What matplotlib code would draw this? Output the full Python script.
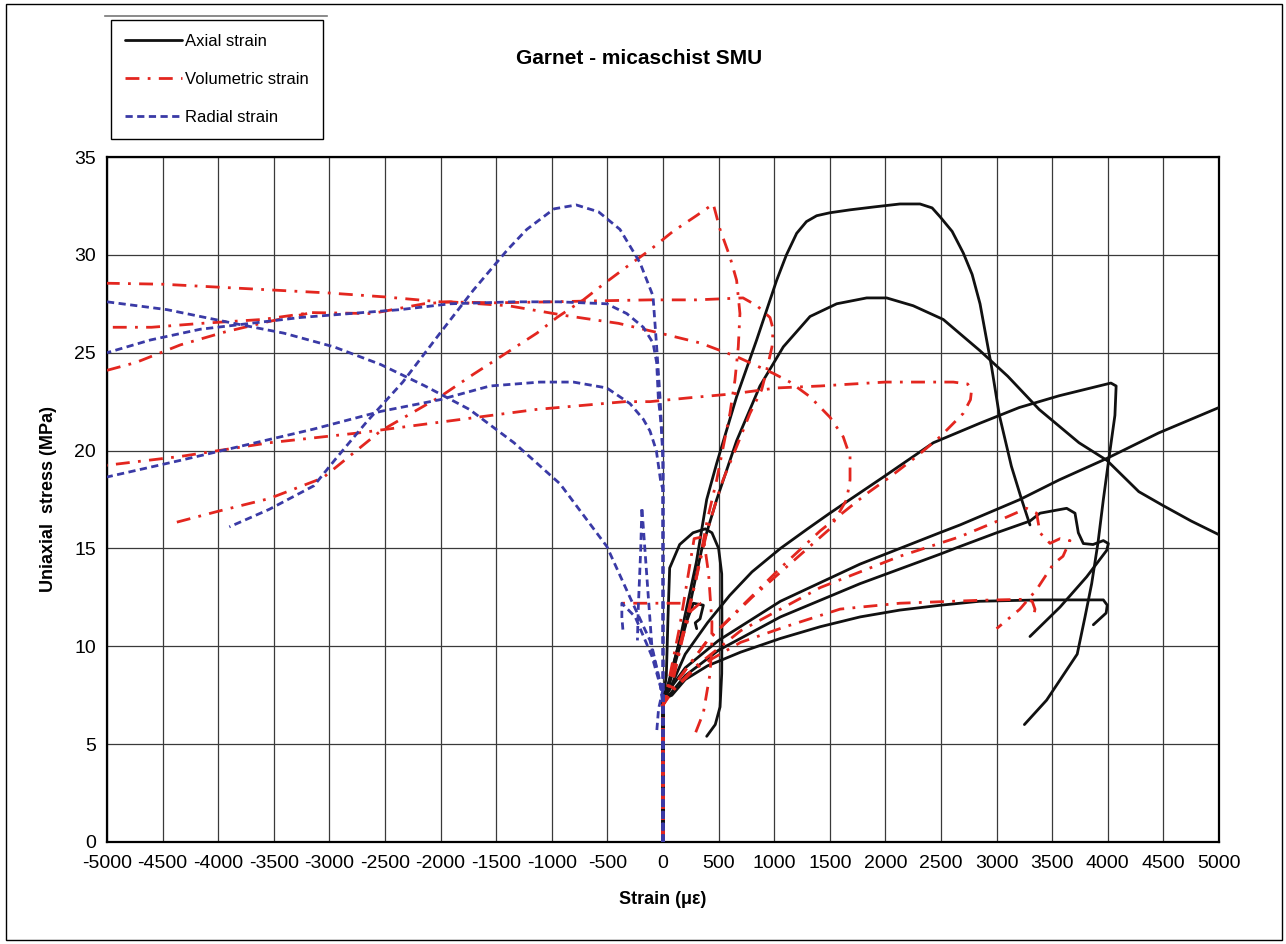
import matplotlib
matplotlib.use("Agg")
import matplotlib.pyplot as plt
from matplotlib.lines import Line2D
from matplotlib.patches import Rectangle

plt.rcParams['axes.unicode_minus'] = False

# ---------------- data (strain in micro-strain, stress in MPa) ----------------
# Axial strain curves (black)
ax1_x = [0, 0, 30, 150, 300, 393, 483, 662, 842, 1022, 1110, 1202, 1290, 1382, 1500, 1682, 1900, 2131, 2311, 2420, 2491, 2600, 2700, 2780, 2851, 2954, 3025, 3133, 3225, 3300]
ax1_y = [0, 7.3, 7.6, 10.3, 14.3, 17.5, 19.35, 22.75, 25.65, 28.7, 30.0, 31.1, 31.7, 32.0, 32.15, 32.3, 32.45, 32.6, 32.6, 32.4, 31.95, 31.2, 30.1, 29.0, 27.5, 24.3, 21.8, 19.2, 17.5, 16.2]

ax2_x = [0, 0, 40, 200, 350, 483, 662, 872, 1082, 1322, 1562, 1832, 2011, 2250, 2520, 2851, 3100, 3383, 3741, 3992, 4279, 4494, 4750, 5000]
ax2_y = [0, 7.3, 7.7, 11.0, 15.0, 17.5, 20.5, 23.3, 25.3, 26.85, 27.5, 27.8, 27.8, 27.4, 26.7, 25.1, 23.8, 22.1, 20.4, 19.5, 17.9, 17.2, 16.4, 15.7]

ax3_x = [0, 0, 60, 200, 400, 600, 800, 1056, 1300, 1500, 1682, 1982, 2431, 2851, 3204, 3562, 3920, 4028, 4075, 4064, 4010, 3960, 3912, 3855, 3795, 3725, 3450, 3250]
ax3_y = [0, 7.3, 7.8, 9.6, 11.2, 12.6, 13.8, 15.0, 16.0, 16.8, 17.5, 18.65, 20.4, 21.4, 22.2, 22.8, 23.3, 23.45, 23.3, 21.8, 19.6, 17.5, 15.3, 13.2, 11.5, 9.6, 7.25, 6.0]

ax4_x = [0, 0, 60, 200, 500, 1056, 1772, 2488, 2671, 3210, 3562, 3992, 4457, 5000]
ax4_y = [0, 7.3, 7.8, 8.9, 10.3, 12.3, 14.2, 15.8, 16.2, 17.5, 18.5, 19.6, 20.9, 22.2]

ax5_x = [0, 0, 70, 200, 500, 1056, 1772, 2488, 2671, 3000, 3300, 3390, 3630, 3705, 3735, 3780, 3867, 3960, 4005, 3990, 3810, 3570, 3300]
ax5_y = [0, 7.3, 7.6, 8.5, 9.8, 11.5, 13.2, 14.7, 15.1, 15.8, 16.4, 16.8, 17.05, 16.8, 15.8, 15.25, 15.2, 15.4, 15.25, 14.9, 13.55, 12.0, 10.5]

ax6_x = [0, 0, 80, 200, 400, 698, 1056, 1414, 1772, 2130, 2500, 2846, 3383, 3960, 3995, 3985, 3870]
ax6_y = [0, 7.3, 7.5, 8.3, 9.0, 9.7, 10.4, 11.0, 11.5, 11.85, 12.1, 12.3, 12.37, 12.37, 12.1, 11.7, 11.1]

ax7_x = [0, 0, 30, 45, 60, 150, 270, 380, 440, 500, 528, 530, 528, 513, 470, 393]
ax7_y = [0, 7.3, 8.5, 11.5, 14.0, 15.2, 15.8, 16.0, 15.8, 15.0, 13.7, 11.0, 8.6, 6.9, 6.0, 5.4]

ax8_x = [0, 0, 48, 150, 273, 363, 333, 290, 303]
ax8_y = [0, 7.3, 8.1, 10.3, 12.2, 12.1, 11.4, 11.2, 10.9]

# Volumetric strain curves (red)
vol1_x = [0, 0, 40, 150, 300, 400, 483, 542, 602, 647, 677, 692, 662, 602, 513, 452, 300, 90, -117, -324, -536, -716, -954, -1134, -1405, -1705, -2005, -2540, -3060, -3540, -4000, -4400]
vol1_y = [0, 7.0, 7.6, 10.0, 13.5, 16.5, 18.5, 20.2, 21.9, 23.6, 25.3, 27.0, 28.7, 29.9, 31.3, 32.6, 32.0, 31.2, 30.25, 29.4, 28.5, 27.7, 26.8, 26.0, 25.0, 23.9, 22.75, 21.0, 18.6, 17.55, 16.9, 16.3]

vol2_x = [0, 0, 80, 200, 300, 393, 483, 540, 662, 782, 887, 932, 980, 990, 962, 845, 720, 300, -117, -600, -1000, -1500, -2000, -2500, -3000, -3500, -4000, -4500, -5000]
vol2_y = [0, 7.0, 8.0, 11.0, 13.5, 15.8, 17.5, 18.5, 20.2, 21.9, 23.1, 24.1, 25.3, 26.2, 26.8, 27.4, 27.8, 27.7, 27.7, 27.65, 27.6, 27.55, 27.6, 27.85, 28.05, 28.2, 28.35, 28.5, 28.55]

vol3_x = [0, 0, 100, 400, 800, 1200, 1500, 1611, 1652, 1682, 1682, 1621, 1502, 1322, 1142, 990, 662, 333, -27, -400, -880, -1390, -1915, -2150, -2620, -3160, -3600, -4150, -4600, -5000]
vol3_y = [0, 7.0, 8.0, 10.3, 12.5, 14.5, 16.0, 17.1, 17.5, 18.5, 19.7, 20.7, 21.7, 22.75, 23.5, 23.95, 24.8, 25.5, 26.0, 26.5, 26.9, 27.4, 27.6, 27.5, 27.0, 27.05, 26.7, 26.5, 26.3, 26.3]

vol4_x = [-5000, -4740, -4340, -3940, -3540, -3200]
vol4_y = [24.1, 24.5, 25.4, 26.06, 26.6, 27.0]

vol5_x = [0, 0, 50, 150, 400, 700, 1056, 1414, 1832, 2041, 2281, 2491, 2700, 2765, 2775, 2740, 2611, 2300, 2000, 1700, 1414, 1022, 632, 243, -117, -340, -1140, -1940, -2740, -3540, -4340, -5000]
vol5_y = [0, 7.0, 7.5, 8.4, 10.3, 12.0, 14.0, 15.9, 17.8, 18.65, 19.7, 20.7, 21.9, 22.6, 23.1, 23.4, 23.5, 23.5, 23.5, 23.4, 23.3, 23.2, 22.9, 22.7, 22.5, 22.5, 22.1, 21.5, 20.9, 20.4, 19.7, 19.25]

vol6_x = [0, 0, 60, 300, 700, 1414, 2130, 2671, 3030, 3270, 3360, 3390, 3480, 3570, 3660, 3597, 3510, 3360, 3210, 3000]
vol6_y = [0, 7.0, 7.6, 9.0, 10.8, 13.0, 14.6, 15.6, 16.45, 17.05, 16.8, 15.8, 15.26, 15.5, 15.4, 14.6, 14.2, 12.9, 11.9, 10.9]

vol7_x = [0, 0, 100, 300, 698, 1100, 1593, 2130, 2846, 3240, 3320, 3345, 3330]
vol7_y = [0, 7.0, 7.8, 8.9, 10.2, 11.0, 11.9, 12.2, 12.35, 12.4, 12.3, 11.9, 11.4]

vol8_x = [0, 0, 40, 150, 250, 333, 100, -200, -431]
vol8_y = [0, 7.0, 7.6, 10.0, 11.8, 12.2, 12.2, 12.2, 12.2]

vol9_x = [0, 0, 30, 150, 280, 363, 410, 440, 438, 423, 363, 273]
vol9_y = [0, 7.0, 7.6, 11.0, 15.5, 15.6, 13.7, 11.2, 10.0, 8.6, 6.6, 5.3]

# Radial strain curves (blue)
rad1_x = [0, 0, -12, -27, -57, -90, -207, -387, -580, -780, -980, -1225, -1400, -1705, -2005, -2340, -2660, -2940, -3140, -3540, -3900]
rad1_y = [0, 19.3, 21.0, 22.75, 25.3, 27.9, 29.6, 31.3, 32.2, 32.55, 32.35, 31.3, 30.25, 28.2, 26.0, 23.5, 21.5, 19.6, 18.2, 17.0, 16.1]

rad2_x = [0, 0, -20, -42, -57, -90, -177, -326, -506, -940, -1340, -1915, -2365, -2815, -3260, -3710, -4160, -4610, -5000]
rad2_y = [0, 20.0, 21.5, 22.7, 24.5, 25.5, 26.3, 27.0, 27.5, 27.6, 27.6, 27.5, 27.2, 27.0, 26.8, 26.5, 26.2, 25.65, 25.0]

rad3_x = [-5000, -4460, -3860, -3410, -2960, -2540, -2140, -1740, -1340, -926, -505, -297, -117, -27, 0, 0]
rad3_y = [27.6, 27.2, 26.5, 26.0, 25.3, 24.4, 23.3, 22.1, 20.4, 18.3, 15.1, 12.5, 10.3, 8.1, 7.0, 0]

rad4_x = [0, 0, -20, -60, -117, -177, -297, -506, -806, -1106, -1556, -2005, -2540, -3140, -3740, -4340, -5000]
rad4_y = [0, 18.0, 18.4, 20.0, 21.0, 21.6, 22.4, 23.2, 23.5, 23.5, 23.3, 22.6, 22.0, 21.1, 20.3, 19.5, 18.65]

rad5_x = [0, 0, -100, -190, -200, -222, -230]
rad5_y = [0, 7.5, 10.0, 17.1, 15.0, 12.0, 10.3]

rad6_x = [0, 0, -100, -250, -370, -370, -360]
rad6_y = [0, 7.5, 9.5, 11.5, 12.2, 11.5, 10.8]

rad7_x = [0, 0, -40, -57]
rad7_y = [0, 7.8, 6.8, 5.6]

x_ticks = list(range(-5000, 5001, 500))
x_tick_labels = [str(v) for v in x_ticks]
y_ticks = [0, 5, 10, 15, 20, 25, 30, 35]
y_tick_labels = [str(v) for v in y_ticks]

legend_labels = ["Axial strain", "Volumetric strain", "Radial strain"]
title_text = "Garnet - micaschist SMU"
x_label = "Strain (\u03bc\u03b5)"
y_label = "Uniaxial  stress (MPa)"

# ---------------- styles ----------------
BLACK = "#111111"
RED = "#e3261f"
BLUE = "#3a3aa6"
axial_style = dict(color=BLACK, lw=2.0, linestyle='-', solid_capstyle='round')
vol_style = dict(color=RED, lw=2.0, linestyle=(0, (5, 3, 1, 3)))
rad_style = dict(color=BLUE, lw=2.0, linestyle=(0, (2.6, 1.6)))

FONT = ['Liberation Sans', 'DejaVu Sans']

W, H = 1286, 944
fig = plt.figure(figsize=(W / 100, H / 100), dpi=100)
fig.patch.set_facecolor('white')
ax = fig.add_axes([107 / W, 1 - 842 / H, (1219 - 107) / W, (842 - 157) / H])

axial = [(ax1_x, ax1_y), (ax2_x, ax2_y), (ax3_x, ax3_y), (ax4_x, ax4_y),
         (ax5_x, ax5_y), (ax6_x, ax6_y), (ax7_x, ax7_y), (ax8_x, ax8_y)]
volumetric = [(vol1_x, vol1_y), (vol2_x, vol2_y), (vol3_x, vol3_y), (vol4_x, vol4_y),
              (vol5_x, vol5_y), (vol6_x, vol6_y), (vol7_x, vol7_y), (vol8_x, vol8_y),
              (vol9_x, vol9_y)]
radial = [(rad1_x, rad1_y), (rad2_x, rad2_y), (rad3_x, rad3_y), (rad4_x, rad4_y),
          (rad5_x, rad5_y), (rad6_x, rad6_y), (rad7_x, rad7_y)]

for xs, ys in axial:
    ax.plot(xs, ys, zorder=3, **axial_style)
for xs, ys in volumetric:
    ax.plot(xs, ys, zorder=4, **vol_style)
for xs, ys in radial:
    ax.plot(xs, ys, zorder=5, **rad_style)

ax.set_xlim(-5000, 5000)
ax.set_ylim(0, 35)
ax.set_xticks(x_ticks)
ax.set_xticklabels(x_tick_labels, family=FONT, fontsize=14)
ax.set_yticks(y_ticks)
ax.set_yticklabels(y_tick_labels, family=FONT, fontsize=14)
ax.tick_params(axis='x', length=0, pad=9)
ax.tick_params(axis='y', length=0, pad=8)
ax.grid(True, color='#3a3a3a', lw=0.9, zorder=1)
ax.set_axisbelow(True)
for s in ax.spines.values():
    s.set_linewidth(1.6)
    s.set_color('black')

ax.set_xlabel(x_label, family=FONT, fontsize=13, fontweight='bold')
ax.xaxis.set_label_coords(0.5, -0.072)
ax.set_ylabel(y_label, family=FONT, fontsize=13, fontweight='bold')
ax.yaxis.set_label_coords(-0.045, 0.5)

fig.text(0.497, 1 - 58 / H, title_text, ha='center', va='center',
         family=FONT, fontsize=15, fontweight='bold')

handles = [Line2D([], [], **axial_style), Line2D([], [], **vol_style),
           Line2D([], [], **rad_style)]
leg = fig.legend(handles, legend_labels, loc='upper left',
                 bbox_to_anchor=(111 / W, 1 - 20 / H), frameon=True, fancybox=False,
                 edgecolor='black', framealpha=1, prop={'family': FONT, 'size': 12},
                 handlelength=3.4, labelspacing=1.38, borderpad=0.85,
                 handletextpad=0.2, borderaxespad=0)
leg.get_frame().set_linewidth(1.0)

# decorative line above legend and outer border
fig.add_artist(Line2D([105 / W, 327 / W], [1 - 16 / H, 1 - 16 / H],
                      transform=fig.transFigure, color='#777777', lw=1.2))
fig.add_artist(Rectangle((6 / W, 4 / H), (1282 - 6) / W, (940 - 4) / H,
                         transform=fig.transFigure, fill=False, edgecolor='black', lw=1.0))

fig.savefig("out.png", dpi=100, facecolor='white')
